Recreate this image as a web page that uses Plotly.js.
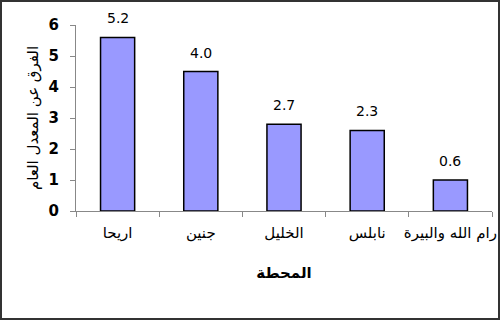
<!DOCTYPE html>
<html><head><meta charset="utf-8">
<script src="https://cdn.plot.ly/plotly-3.0.1.min.js"></script>
<style>
html,body{margin:0;padding:0;background:#fff;}
#wrap{position:absolute;left:0;top:0;width:496px;height:316px;border:2px solid #333;}
#chart{width:496px;height:316px;}
</style></head>
<body><div id="wrap"><div id="chart"></div></div>
<script>
const categories = ["اريحا", "جنين", "الخليل", "نابلس", "رام الله والبيرة"];
const values = [5.6, 4.5, 2.8, 2.6, 1.0];
const labels = ["5.2", "4.0", "2.7", "2.3", "0.6"];
const yTicks = [0, 1, 2, 3, 4, 5, 6];

const font = "DejaVu Sans, sans-serif";
const annotations = categories.map((c, i) => ({
  x: c, y: values[i], xref: "x", yref: "y", text: labels[i],
  showarrow: false, yanchor: "bottom", yshift: 9,
  font: {family: font, size: 14, color: "#000"}
}));

Plotly.newPlot("chart", [{
  type: "bar", x: categories, y: values,
  marker: {color: "#9999FF", line: {color: "#000", width: 1.5}},
  width: 0.41, hoverinfo: "none"
}], {
  width: 496, height: 316,
  margin: {l: 74, r: 6, t: 23, b: 107},
  paper_bgcolor: "#fff", plot_bgcolor: "#fff",
  showlegend: false,
  font: {family: font, size: 14, color: "#000"},
  xaxis: {
    type: "category", tickson: "boundaries", ticks: "outside", ticklen: 5,
    tickangle: 0,
    tickcolor: "#888", showline: true, linecolor: "#888", linewidth: 1,
    showgrid: false, zeroline: false, ticklabelstandoff: 8,
    tickfont: {family: font, size: 15},
    title: {text: "<b>المحطة</b>", font: {family: font, size: 15}, standoff: 26}
  },
  yaxis: {
    range: [0, 6], tickvals: yTicks, ticks: "outside", ticklen: 5,
    tickcolor: "#888", showline: true, linecolor: "#888", linewidth: 1,
    showgrid: false, zeroline: false, ticklabelstandoff: 8,
    tickfont: {family: font, size: 15, weight: "bold"},
    title: {text: "الفرق عن المعدل العام", font: {family: font, size: 15}, standoff: 6}
  },
  annotations: annotations
}, {staticPlot: true, displayModeBar: false});
</script></body></html>
